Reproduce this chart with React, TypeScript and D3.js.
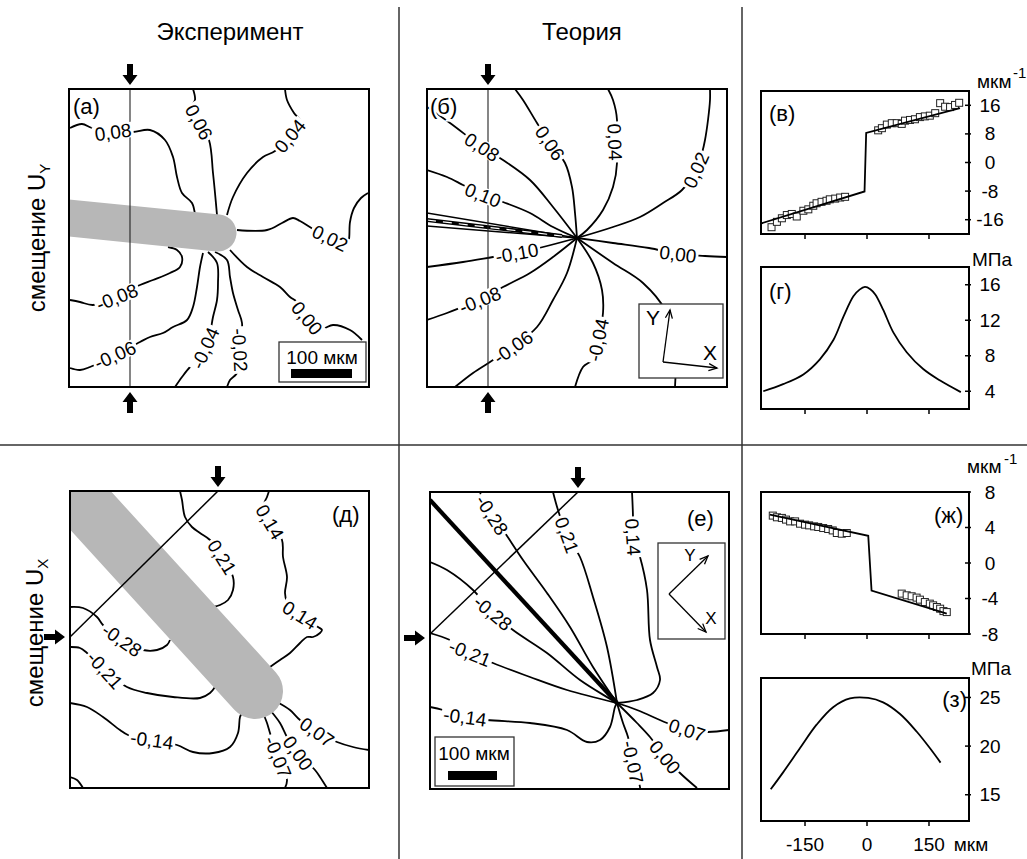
import React from "react";
import * as d3 from "d3";

type P = [number, number];
type Contour = { t: string; p: P[]; l: [number, number, number][] };

// ---------------- Contour data (panel-local µm-like units) ----------------
// (а) Эксперимент, U_Y
const contoursA: Contour[] = [
  { t: "0,08", p: [[1,39],[13,35],[23,39],[44,43],[64,43],[81,41],[96,51],[104,68],[108,88],[113,104],[123,114],[126,126]], l: [[44,43,-8]] },
  { t: "0,06", p: [[124,0],[126,11],[122,18],[130,33],[140,51],[144,84],[146,104],[148,126]], l: [[130,33,62]] },
  { t: "0,04", p: [[216,0],[218,11],[225,24],[232,33],[221,47],[206,62],[194,68],[178,84],[164,108],[158,126]], l: [[221,47,-50]] },
  { t: "0,02", p: [[299,104],[292,109],[285,119],[281,133],[280,150],[278,156],[261,149],[244,140],[231,132],[224,129],[213,134],[198,141],[168,141]], l: [[261,149,26]] },
  { t: "0,00", p: [[161,161],[178,178],[194,188],[211,198],[221,208],[228,213],[238,229],[249,241],[256,239],[264,236],[281,241],[293,251]], l: [[238,229,50]] },
  { t: "-0,02", p: [[146,163],[158,171],[161,188],[164,204],[169,221],[173,234],[171,261],[168,284],[161,291],[158,298]], l: [[171,261,87]] },
  { t: "-0,04", p: [[139,163],[148,174],[149,194],[148,211],[144,228],[141,244],[136,259],[127,273],[121,278],[113,288],[106,298]], l: [[136,259,-66]] },
  { t: "-0,08", p: [[1,211],[11,213],[24,216],[48,208],[71,196],[84,191],[101,184],[111,178],[113,168],[108,161],[99,158]], l: [[48,208,-22]] },
  { t: "-0,06", p: [[1,279],[11,281],[21,278],[46,266],[71,253],[81,248],[94,244],[104,238],[118,231],[124,218],[128,198],[131,178],[134,164]], l: [[46,266,-24]] },
];
const barA: P[] = [[-20,127],[149,144]];
const lineA: P[] = [[61,0],[61,298]];

// (б) Теория, U_Y
const contoursB: Contour[] = [
  { t: "0,08", p: [[0,18],[23,34],[55,58],[76,71],[103,91],[126,118],[150,149]], l: [[55,58,33]] },
  { t: "0,06", p: [[88,0],[96,11],[110,34],[123,54],[138,74],[145,98],[148,124],[150,149]], l: [[123,54,56]] },
  { t: "0,04", p: [[181,0],[186,11],[190,31],[188,53],[190,74],[186,98],[176,121],[160,141],[150,149]], l: [[188,53,88]] },
  { t: "0,02", p: [[283,0],[283,11],[281,31],[278,51],[275,64],[269,81],[255,101],[236,114],[213,128],[186,138],[150,149]], l: [[269,81,-66]] },
  { t: "0,00", p: [[150,149],[186,154],[222,159],[251,165],[278,167],[300,168]], l: [[251,165,7]] },
  { t: "0,10", p: [[0,81],[20,88],[36,96],[56,106],[76,113],[103,124],[126,138],[150,149]], l: [[56,106,22]] },
  { t: "-0,10", p: [[0,178],[36,173],[66,168],[90,164],[116,158],[150,149]], l: [[90,164,-10]] },
  { t: "-0,08", p: [[0,231],[20,224],[33,219],[53,211],[76,198],[103,184],[126,168],[150,149]], l: [[53,211,-22]] },
  { t: "-0,06", p: [[28,298],[46,284],[63,273],[86,258],[110,238],[126,211],[140,184],[150,149]], l: [[86,258,-35]] },
  { t: "-0,04", p: [[148,298],[156,278],[165,271],[171,251],[176,224],[175,201],[166,174],[150,149]], l: [[171,251,-78]] },
  { t: "", p: [[150,149],[186,174],[216,194],[238,221],[248,261],[248,298]], l: [] },
];
const crackThinB: P[][] = [[[0,124],[150,149]], [[0,137],[150,149]]];
const crackThickB: P[] = [[0,131],[135,147]];
const lineB: P[] = [[61,0],[61,298]];

// (д) Эксперимент, U_X
const contoursD: Contour[] = [
  { t: "0,21", p: [[110,0],[112,9],[115,26],[122,36],[130,42],[140,49],[152,66],[163,86],[163,99],[158,109],[150,114],[143,116]], l: [[152,66,58]] },
  { t: "0,14", p: [[199,0],[197,6],[193,16],[200,31],[212,49],[213,66],[217,86],[215,102],[217,111],[230,124],[248,136],[252,139],[250,142],[243,146],[237,146],[230,152],[220,162],[210,169],[200,176]], l: [[200,31,60],[230,124,32]] },
  { t: "-0,28", p: [[0,116],[13,117],[27,126],[33,134],[52,149],[73,159],[87,159],[97,154],[100,149]], l: [[52,149,35]] },
  { t: "-0,21", p: [[0,156],[10,157],[17,162],[35,179],[57,196],[77,202],[103,206],[130,207],[140,202],[145,196]], l: [[35,179,48]] },
  { t: "-0,14", p: [[0,212],[17,216],[33,226],[50,239],[58,244],[82,249],[107,254],[123,261],[143,262],[160,256],[168,242],[170,226],[172,222]], l: [[82,249,8]] },
  { t: "", p: [[0,286],[7,289],[13,297]], l: [] },
  { t: "0,07", p: [[207,211],[220,219],[230,229],[247,241],[267,251],[283,256],[299,259]], l: [[247,241,35]] },
  { t: "0,00", p: [[200,219],[210,232],[217,246],[228,262],[245,279],[250,286],[257,297]], l: [[228,262,55]] },
  { t: "-0,07", p: [[193,222],[197,232],[200,242],[208,266],[217,289],[215,297]], l: [[208,266,68]] },
];
const barD: P[] = [[-20,-25],[185,200]];
const lineD: P[] = [[148,0],[0,146]];

// (е) Теория, U_X
const contoursE: Contour[] = [
  { t: "-0,28", p: [[50,0],[53,8],[62,23],[73,38],[93,68],[117,101],[140,135],[163,175],[187,211]], l: [[62,23,57]] },
  { t: "0,21", p: [[123,0],[128,18],[137,43],[150,65],[163,105],[177,155],[187,211]], l: [[137,43,70]] },
  { t: "0,14", p: [[202,0],[203,25],[203,45],[210,65],[217,98],[220,148],[227,175],[230,188],[223,201],[207,208],[187,211]], l: [[203,45,86]] },
  { t: "-0,28", p: [[0,70],[17,78],[43,98],[63,121],[83,138],[117,161],[150,188],[187,211]], l: [[63,121,40]] },
  { t: "-0,21", p: [[0,141],[20,148],[40,161],[63,171],[100,185],[137,198],[187,211]], l: [[40,161,22]] },
  { t: "-0,14", p: [[0,215],[13,218],[35,225],[57,228],[100,231],[137,238],[157,250],[170,248],[180,235],[185,215],[187,211]], l: [[35,225,8]] },
  { t: "0,07", p: [[187,211],[207,218],[237,231],[257,238],[278,240],[299,238]], l: [[257,238,18]] },
  { t: "0,00", p: [[187,211],[207,231],[220,245],[235,265],[250,281],[267,296]], l: [[235,265,50]] },
  { t: "-0,07", p: [[187,211],[193,231],[198,245],[203,270],[210,295],[210,297]], l: [[203,270,78]] },
];
const thickE: P[] = [[0,8],[187,211]];
const lineE: P[] = [[148,0],[0,142]];

// ---------------- Line-plot data ----------------
const xTicks = [-150, 0, 150];
// (в)
const vFitX = [-255, -6, -2, 225];
const vFitY = [-17, -8.1, 8.3, 15.2];
const vSqX = [-231,-218,-206,-194,-182,-170,-154,-142,-130,-122,-110,-98,-90,-77,-65,-53, 27,36,48,60,72,84,92,104,116,128,140,152,165,177,189,201,213,223];
const vSqY = [-18.1,-16.6,-15.6,-14.7,-14.4,-15.1,-13.5,-13.1,-12.1,-11.4,-11.0,-10.7,-10.3,-10.1,-9.8,-9.6, 9.0,9.6,10.6,11.0,11.0,10.8,11.7,11.9,12.1,12.7,12.9,13.1,13.8,16.6,15.6,15.5,16.1,16.7];
const vTicks = [16, 8, 0, -8, -16];
// (г)
const gX = [-251,-203,-154,-114,-81,-57,-33,-18,-5,8,20,39,64,96,136,177,227];
const gY = [4.0,4.8,5.9,7.6,9.8,12.4,14.7,15.45,15.75,15.5,14.9,13.2,10.6,8.4,6.5,5.2,3.9];
const gTicks = [16, 12, 8, 4];
// (ж)
const zhFitX = [-235, 3, 11, 193];
const zhFitY = [5.45, 3.07, -3.1, -5.7];
const zhSqX = [-228,-218,-206,-196,-186,-174,-162,-150,-140,-128,-118,-106,-94,-83,-73,-61,-49, 84,96,108,120,128,140,152,160,169,177,185,193];
const zhSqY = [5.34,5.15,5.08,4.89,4.69,4.69,4.43,4.32,4.24,4.13,4.06,3.94,3.83,3.67,3.38,3.30,3.38, -3.45,-3.64,-3.75,-3.9,-4.13,-4.4,-4.58,-4.77,-4.96,-5.15,-5.42,-5.53];
const zhTicks = [8, 4, 0, -4, -8];
// (з)
const zX = [-233,-203,-162,-122,-82,-41,3,39,80,120,152,178];
const zY = [15.56,17.3,19.8,22.2,24.0,24.9,24.95,24.5,23.3,21.5,19.8,18.3];
const zTicks = [25, 20, 15];

const FONT = "'Liberation Sans', Arial, Helvetica, sans-serif";
const LABEL_FS = 19;

type S = { sx: d3.ScaleLinear<number, number>; sy: d3.ScaleLinear<number, number>; x0: number; y0: number; w: number; h: number; id: string };

function mk(id: string, x0: number, y0: number, w: number, h: number): S {
  return {
    id, x0, y0, w, h,
    sx: d3.scaleLinear().domain([0, w]).range([x0, x0 + w]),
    sy: d3.scaleLinear().domain([0, h]).range([y0, y0 + h]),
  };
}

function textW(t: string, fs: number) {
  let w = 0;
  for (const ch of t) w += ch === "," ? 0.278 : ch === "-" ? 0.333 : 0.556;
  return w * fs;
}

function BlockArrow({ x, y, rot }: { x: number; y: number; rot: number }) {
  return <path d="M-3,-21 L3,-21 L3,-10 L7.5,-10 L0,0 L-7.5,-10 L-3,-10 Z" transform={`translate(${x},${y}) rotate(${rot})`} fill="#000" />;
}

function ThinArrow({ x1, y1, x2, y2 }: { x1: number; y1: number; x2: number; y2: number }) {
  const a = Math.atan2(y2 - y1, x2 - x1);
  const L = 9, da = 0.4;
  const h1 = [x2 - L * Math.cos(a - da), y2 - L * Math.sin(a - da)];
  const h2 = [x2 - L * Math.cos(a + da), y2 - L * Math.sin(a + da)];
  return (
    <g stroke="#000" strokeWidth={1.3} fill="none">
      <line x1={x1} y1={y1} x2={x2} y2={y2} />
      <polyline points={`${h1[0]},${h1[1]} ${x2},${y2} ${h2[0]},${h2[1]}`} />
    </g>
  );
}

function smooth(s: S) {
  return d3.line<P>().x((d) => s.sx(d[0])).y((d) => s.sy(d[1])).curve(d3.curveCatmullRom.alpha(0.5));
}
function straight(s: S) {
  return d3.line<P>().x((d) => s.sx(d[0])).y((d) => s.sy(d[1]));
}

function ContourLines({ s, data }: { s: S; data: Contour[] }) {
  const ln = smooth(s);
  return (
    <g>
      {data.map((c, i) => (
        <path key={i} d={ln(c.p) || ""} fill="none" stroke="#000" strokeWidth={1.8} strokeLinejoin="round" />
      ))}
    </g>
  );
}

function ContourLabels({ s, data }: { s: S; data: Contour[] }) {
  return (
    <g fontFamily={FONT} fontSize={LABEL_FS}>
      {data.flatMap((c, i) =>
        c.l.map((l, j) => {
          const x = s.sx(l[0]), y = s.sy(l[1]);
          const w = textW(c.t, LABEL_FS) + 4;
          const h = LABEL_FS * 0.8;
          return (
            <g key={`${i}-${j}`} transform={`translate(${x},${y}) rotate(${l[2]})`}>
              <rect x={-w / 2} y={-h / 2} width={w} height={h} fill="#fff" />
              <text x={0} y={LABEL_FS * 0.36} textAnchor="middle" fill="#000">{c.t}</text>
            </g>
          );
        })
      )}
    </g>
  );
}

function PanelLabel({ s, x, y, t }: { s: S; x: number; y: number; t: string }) {
  return (
    <text x={s.sx(x)} y={s.sy(y)} fontFamily={FONT} fontSize={22} fill="#000" stroke="#fff" strokeWidth={5} style={{ paintOrder: "stroke" }}>{t}</text>
  );
}

function ScaleBox({ s, bx, by, bw, bh, tx, ty, rx, ry, rw, rh }: any) {
  return (
    <g>
      <rect x={s.sx(bx)} y={s.sy(by)} width={bw} height={bh} fill="#fff" stroke="#333" strokeWidth={1.3} />
      <text x={s.sx(tx)} y={s.sy(ty)} textAnchor="middle" fontFamily={FONT} fontSize={19}>100 мкм</text>
      <rect x={s.sx(rx)} y={s.sy(ry)} width={rw} height={rh} fill="#000" />
    </g>
  );
}

const xPlot = d3.scaleLinear().domain([-256.5, 246.8]).range([761, 969]);
const PL = 761, PR = 969;

function LinePlot(props: {
  top: number; bottom: number; dom: [number, number]; ticks: number[];
  lineX: number[]; lineY: number[]; smoothLine: boolean; sqX?: number[]; sqY?: number[];
}) {
  const { top, bottom, dom, ticks, lineX, lineY, smoothLine, sqX, sqY } = props;
  const y = d3.scaleLinear().domain(dom).range([bottom, top]);
  const pts: P[] = lineX.map((v, i) => [v, lineY[i]]);
  const gen = d3.line<P>().x((d) => xPlot(d[0])).y((d) => y(d[1]));
  if (smoothLine) gen.curve(d3.curveCatmullRom.alpha(0.5));
  const sq = 7;
  return (
    <g>
      {sqX && sqY && sqX.map((v, i) => (
        <rect key={i} x={xPlot(v) - sq / 2} y={y(sqY[i]) - sq / 2} width={sq} height={sq} fill="#fff" stroke="#222" strokeWidth={1} />
      ))}
      <path d={gen(pts) || ""} fill="none" stroke="#000" strokeWidth={1.8} />
      <rect x={PL} y={top} width={PR - PL} height={bottom - top} fill="none" stroke="#000" strokeWidth={2} />
      {ticks.map((t) => (
        <g key={t}>
          <line x1={PR - 4} x2={PR + 2} y1={y(t)} y2={y(t)} stroke="#000" strokeWidth={1.5} />
          <text x={990} y={y(t)} textAnchor="middle" dominantBaseline="central" fontFamily={FONT} fontSize={19}>{t}</text>
        </g>
      ))}
      {xTicks.map((t) => (
        <line key={t} x1={xPlot(t)} x2={xPlot(t)} y1={bottom} y2={bottom + 5} stroke="#000" strokeWidth={1.5} />
      ))}
    </g>
  );
}

export default function App() {
  const A = mk("A", 69, 89, 300, 298);
  const B = mk("B", 427, 89, 300, 298);
  const D = mk("D", 70, 491, 299, 297);
  const E = mk("E", 430, 492, 299, 297);
  const clip = (s: S) => `url(#clip${s.id})`;
  const frame = (s: S) => <rect x={s.x0} y={s.y0} width={s.w} height={s.h} fill="none" stroke="#000" strokeWidth={2} />;
  const barCol = "#b7b7b7";

  return (
    <svg width={1027} height={859} style={{ position: "absolute", left: 0, top: 0, background: "#fff" }} fontFamily={FONT}>
      <defs>
        {[A, B, D, E].map((s) => (
          <clipPath key={s.id} id={`clip${s.id}`}><rect x={s.x0} y={s.y0} width={s.w} height={s.h} /></clipPath>
        ))}
      </defs>
      <rect width={1027} height={859} fill="#fff" />

      {/* separators */}
      <line x1={399} x2={399} y1={7} y2={859} stroke="#333" strokeWidth={1.5} />
      <line x1={742} x2={742} y1={7} y2={859} stroke="#333" strokeWidth={1.5} />
      <line x1={0} x2={1027} y1={445} y2={445} stroke="#333" strokeWidth={1.5} />

      {/* headers */}
      <text x={230} y={40} textAnchor="middle" fontSize={24}>Эксперимент</text>
      <text x={582} y={40} textAnchor="middle" fontSize={24}>Теория</text>
      <text transform="translate(45,238) rotate(-90)" textAnchor="middle" fontSize={24}>смещение U<tspan fontSize={15} dy={5}>Y</tspan></text>
      <text transform="translate(43,633) rotate(-90)" textAnchor="middle" fontSize={24}>смещение U<tspan fontSize={15} dy={5}>X</tspan></text>

      {/* Panel (а) */}
      <g clipPath={clip(A)}>
        <ContourLines s={A} data={contoursA} />
        <path d={straight(A)(barA) || ""} stroke={barCol} strokeWidth={37} strokeLinecap="round" fill="none" />
        <path d={straight(A)(lineA) || ""} stroke="#222" strokeWidth={1.1} fill="none" />
        <ContourLabels s={A} data={contoursA} />
        <ScaleBox s={A} bx={210} by={253} bw={87} bh={40} tx={253} ty={275} rx={222} ry={280} rw={61} rh={9} />
      </g>
      {frame(A)}
      <PanelLabel s={A} x={4} y={25} t="(а)" />
      <BlockArrow x={A.sx(61)} y={A.y0 - 4} rot={0} />
      <BlockArrow x={A.sx(61)} y={A.y0 + A.h + 5} rot={180} />

      {/* Panel (б) */}
      <g clipPath={clip(B)}>
        <ContourLines s={B} data={contoursB} />
        {crackThinB.map((c, i) => <path key={i} d={straight(B)(c) || ""} stroke="#000" strokeWidth={1.5} fill="none" />)}
        <path d={straight(B)(crackThickB) || ""} stroke="#000" strokeWidth={4} fill="none" />
        <path d={straight(B)(crackThickB) || ""} stroke="#fff" strokeWidth={1.2} strokeDasharray="9 7" fill="none" />
        <path d={straight(B)(lineB) || ""} stroke="#222" strokeWidth={1.1} fill="none" />
        <ContourLabels s={B} data={contoursB} />
        <rect x={B.sx(212)} y={B.sy(215)} width={84} height={74} fill="#fff" stroke="#333" strokeWidth={1.3} />
        <ThinArrow x1={B.sx(236)} y1={B.sy(273)} x2={B.sx(243)} y2={B.sy(221)} />
        <ThinArrow x1={B.sx(236)} y1={B.sy(273)} x2={B.sx(290)} y2={B.sy(279)} />
        <text x={B.sx(226)} y={B.sy(228)} textAnchor="middle" dominantBaseline="central" fontSize={21}>Y</text>
        <text x={B.sx(283)} y={B.sy(263)} textAnchor="middle" dominantBaseline="central" fontSize={21}>X</text>
      </g>
      {frame(B)}
      <PanelLabel s={B} x={3} y={25} t="(б)" />
      <BlockArrow x={B.sx(61)} y={B.y0 - 4} rot={0} />
      <BlockArrow x={B.sx(61)} y={B.y0 + B.h + 5} rot={180} />

      {/* Panel (д) */}
      <g clipPath={clip(D)}>
        <ContourLines s={D} data={contoursD} />
        <path d={straight(D)(barD) || ""} stroke={barCol} strokeWidth={56} strokeLinecap="round" fill="none" />
        <path d={straight(D)(lineD) || ""} stroke="#000" strokeWidth={1.5} fill="none" />
        <ContourLabels s={D} data={contoursD} />
      </g>
      {frame(D)}
      <PanelLabel s={D} x={262} y={31} t="(д)" />
      <BlockArrow x={D.sx(148)} y={D.y0 - 4} rot={0} />
      <BlockArrow x={D.x0 - 5} y={D.sy(146)} rot={-90} />

      {/* Panel (е) */}
      <g clipPath={clip(E)}>
        <ContourLines s={E} data={contoursE} />
        <path d={straight(E)(thickE) || ""} stroke="#000" strokeWidth={4.2} fill="none" />
        <path d={straight(E)(lineE) || ""} stroke="#000" strokeWidth={1.5} fill="none" />
        <ContourLabels s={E} data={contoursE} />
        <rect x={E.sx(228)} y={E.sy(51)} width={67} height={96} fill="#fff" stroke="#333" strokeWidth={1.3} />
        <ThinArrow x1={E.sx(239)} y1={E.sy(102)} x2={E.sx(278)} y2={E.sy(64)} />
        <ThinArrow x1={E.sx(239)} y1={E.sy(102)} x2={E.sx(276)} y2={E.sy(140)} />
        <text x={E.sx(260)} y={E.sy(63)} textAnchor="middle" dominantBaseline="central" fontSize={17}>Y</text>
        <text x={E.sx(281)} y={E.sy(126)} textAnchor="middle" dominantBaseline="central" fontSize={17}>X</text>
        <ScaleBox s={E} bx={5} by={245} bw={79} bh={49} tx={44} ty={268} rx={18} ry={279} rw={49} rh={9} />
      </g>
      {frame(E)}
      <PanelLabel s={E} x={257} y={34} t="(е)" />
      <BlockArrow x={E.sx(148)} y={E.y0 - 4} rot={0} />
      <BlockArrow x={E.x0 - 5} y={E.sy(146)} rot={-90} />

      {/* Line plots */}
      <LinePlot top={91} bottom={234} dom={[-20, 20]} ticks={vTicks} lineX={vFitX} lineY={vFitY} smoothLine={false} sqX={vSqX} sqY={vSqY} />
      <LinePlot top={267} bottom={409} dom={[2, 18]} ticks={gTicks} lineX={gX} lineY={gY} smoothLine={true} />
      <LinePlot top={492} bottom={634} dom={[-8, 8]} ticks={zhTicks} lineX={zhFitX} lineY={zhFitY} smoothLine={false} sqX={zhSqX} sqY={zhSqY} />
      <LinePlot top={678} bottom={821} dom={[12.3, 27]} ticks={zTicks} lineX={zX} lineY={zY} smoothLine={true} />

      <text x={769} y={121} fontSize={22}>(в)</text>
      <text x={769} y={299} fontSize={22}>(г)</text>
      <text x={934} y={523} fontSize={22}>(ж)</text>
      <text x={967} y={707} fontSize={22} textAnchor="end">(з)</text>

      <text x={977} y={88} fontSize={19}>мкм</text>
      <text x={1013} y={78} fontSize={15}>-1</text>
      <text x={972} y={266} fontSize={19}>МПа</text>
      <text x={967} y={473} fontSize={19}>мкм</text>
      <text x={1004} y={464} fontSize={15}>-1</text>
      <text x={971} y={675} fontSize={19}>МПа</text>

      {xTicks.map((t) => (
        <text key={t} x={xPlot(t)} y={851} textAnchor="middle" fontSize={19}>{t}</text>
      ))}
      <text x={971} y={851} textAnchor="middle" fontSize={19}>мкм</text>
    </svg>
  );
}
